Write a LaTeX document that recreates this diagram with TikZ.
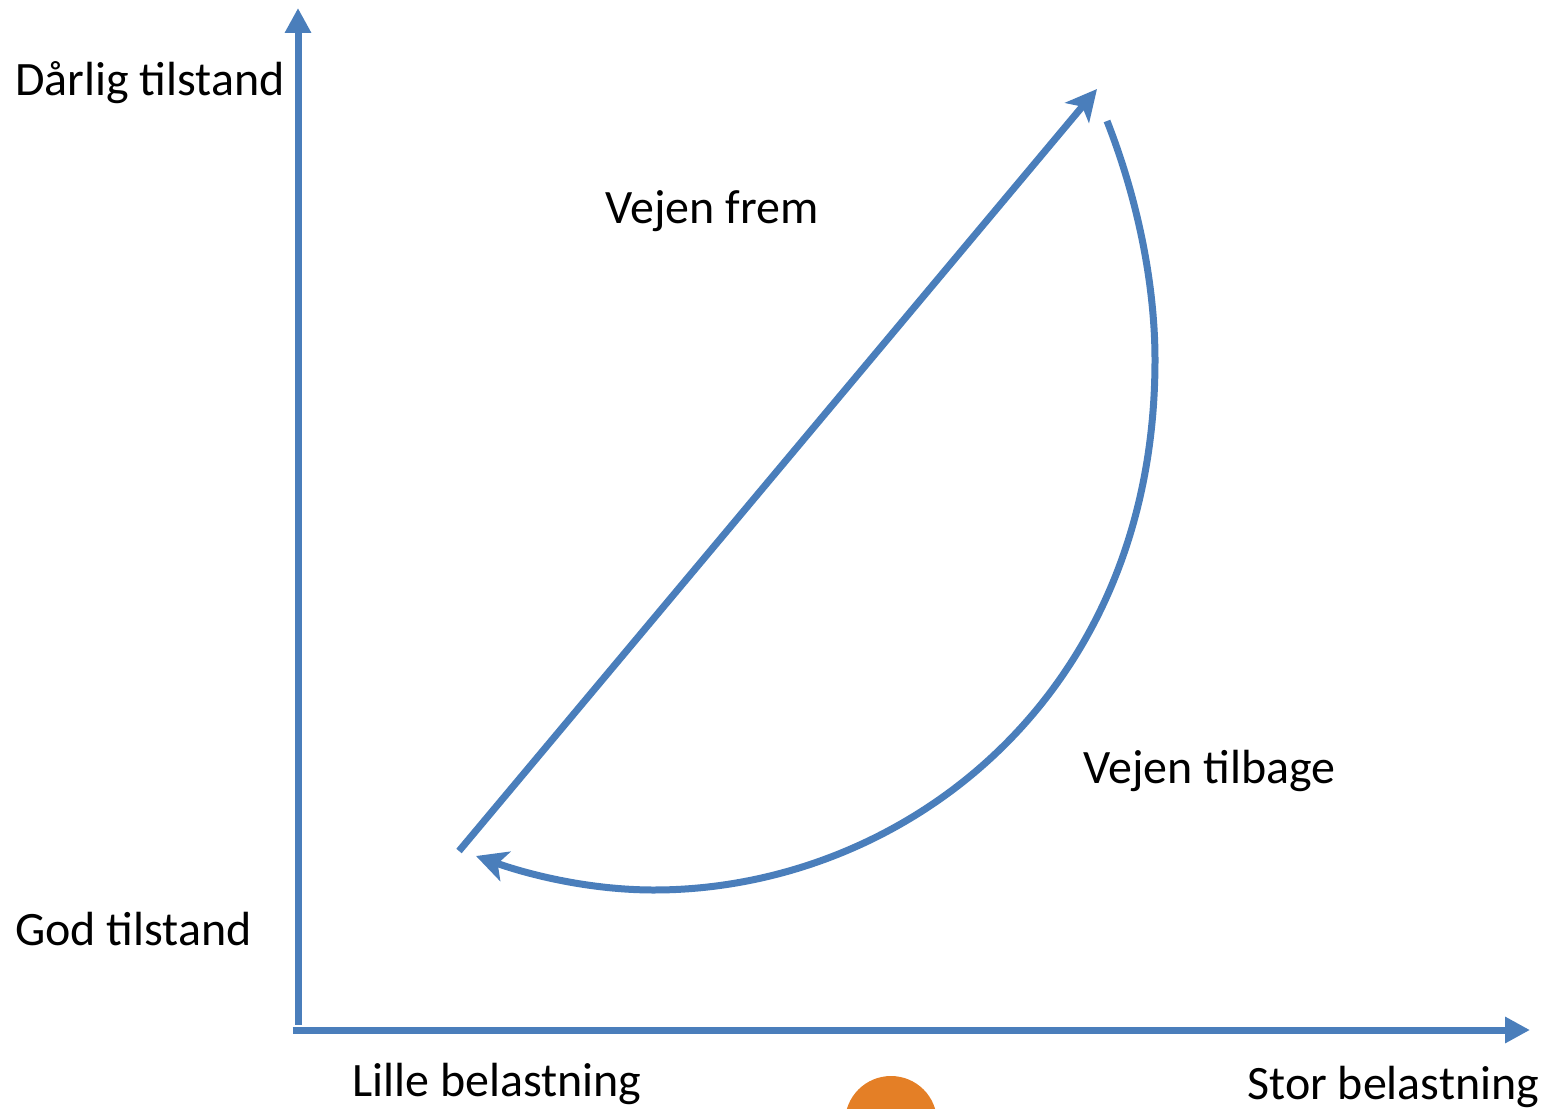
\documentclass[tikz,border=0pt]{standalone}
\usepackage{fontspec}
\setmainfont{Carlito}
\usetikzlibrary{arrows.meta}
\definecolor{axisblue}{RGB}{74, 126, 187}
\definecolor{sunorange}{RGB}{228, 127, 38}

\tikzset{
    axis/.style={draw=axisblue, line width=0.14cm, -{Triangle[length=0.5cm, width=0.5cm]}},
    path/.style={draw=axisblue, line width=0.14cm, -{Stealth[length=0.62cm, width=0.62cm, inset=0.16cm]}},
    label/.style={inner sep=0, anchor=base west, font=\fontsize{27.3}{32}\selectfont}
}

\begin{document}
\begin{tikzpicture}[x=0.02cm, y=-0.02cm]
            \useasboundingbox (0, 0) rectangle (1546, 1109);
            \pgfmathsetmacro{\axisX}{298}
            \pgfmathsetmacro{\axisY}{1030}

            % sun on the horizon
            \begin{scope}
                \clip (0, 0) rectangle (1546, 1109);
                \fill[sunorange] (891, 1122) circle (46);
            \end{scope}

            % axes
            \coordinate (origin) at (\axisX, \axisY);
            \coordinate (ytop) at (\axisX, 8);
            \coordinate (xend) at (1530, \axisY);
            \draw[axis] ([yshift=3]origin) -- (ytop);
            \draw[axis] ([xshift=-3]origin) -- (xend);

            % axis texts
            \node[label] (bad) at (15, 95) {Dårlig tilstand};
            \node[label] (good) at (15, 945) {God tilstand};
            \node[label] (small) at (352, 1096) {Lille belastning};
            \node[label] (large) at (1247, 1099) {Stor belastning};

            % the two roads
            \coordinate (start) at (459, 851);
            \coordinate (top) at (1097, 89);
            \coordinate (back) at (1107, 121);
            \coordinate (right) at (1155, 360);
            \coordinate (bottom) at (654, 890);
            \coordinate (end) at (476, 856);
            \draw[path] (start) -- (top);
            \draw[path] (back) .. controls (1140, 205) and (1155, 290) .. (right)
                .. controls (1155, 700) and (900, 890) .. (bottom)
                .. controls (590, 890) and (530, 875) .. (end);

            \node[label] (forward) at (605, 223) {Vejen frem};
            \node[label] (backward) at (1083, 783) {Vejen tilbage};
        \end{tikzpicture}
\end{document}
